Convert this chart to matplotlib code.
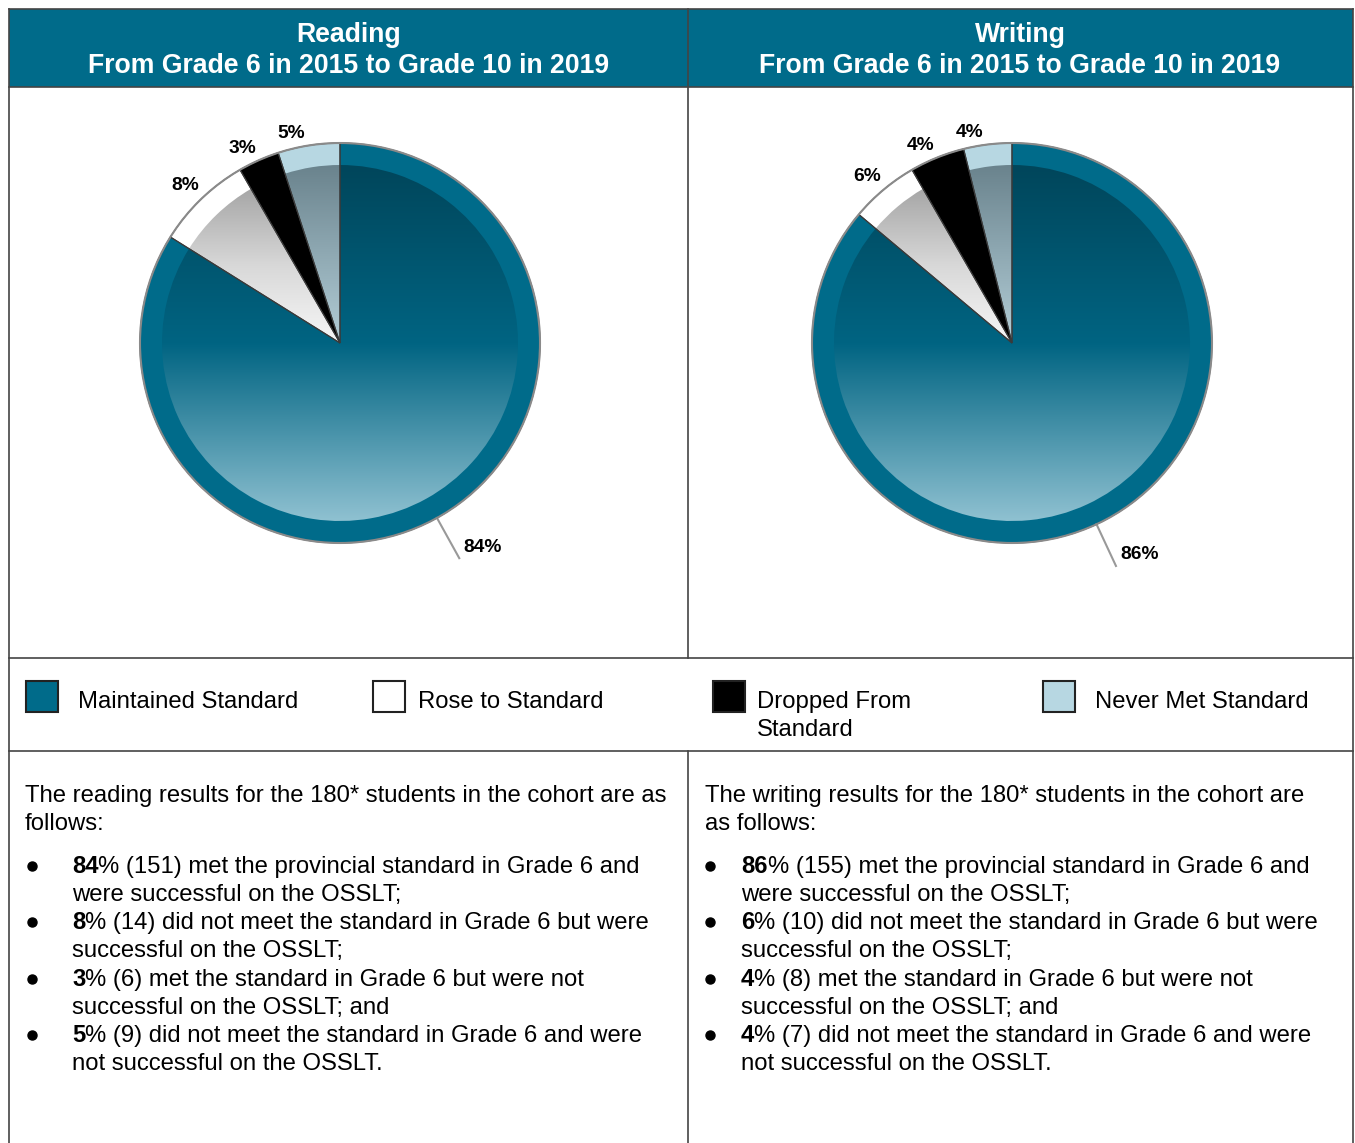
import numpy as np
import matplotlib.pyplot as plt
from matplotlib.patches import Wedge, Rectangle, Circle
from matplotlib.colors import LinearSegmentedColormap

plt.rcParams['font.family'] = ['Liberation Sans', 'DejaVu Sans']

W, H = 1355, 1143

# data
categories = ['Maintained Standard', 'Rose to Standard', 'Dropped From\nStandard', 'Never Met Standard']
subjects = ['Reading', 'Writing']
subtitle = 'From Grade 6 in 2015 to Grade 10 in 2019'
reading_counts = [151, 14, 6, 9]
writing_counts = [155, 10, 8, 7]
reading_pct = [84, 8, 3, 5]
writing_pct = [86, 6, 4, 4]

intro = ['The reading results for the 180* students in the cohort are as\nfollows:',
         'The writing results for the 180* students in the cohort are\nas follows:']
reading_bullets = ['% (151) met the provincial standard in Grade 6 and\nwere successful on the OSSLT;',
                   '% (14) did not meet the standard in Grade 6 but were\nsuccessful on the OSSLT;',
                   '% (6) met the standard in Grade 6 but were not\nsuccessful on the OSSLT; and',
                   '% (9) did not meet the standard in Grade 6 and were\nnot successful on the OSSLT.']
writing_bullets = ['% (155) met the provincial standard in Grade 6 and\nwere successful on the OSSLT;',
                   '% (10) did not meet the standard in Grade 6 but were\nsuccessful on the OSSLT;',
                   '% (8) met the standard in Grade 6 but were not\nsuccessful on the OSSLT; and',
                   '% (7) did not meet the standard in Grade 6 and were\nnot successful on the OSSLT.']

teal = '#006b8a'
ring_colors = [teal, '#ffffff', '#000000', '#b7d7e2']
inner_grads = [['#00465b', '#006482', '#8fc1d1'],
               ['#a6a6a6', '#d8d8d8', '#f7f7f7'],
               ['#000000', '#000000', '#000000'],
               ['#6a838d', '#8fa9b3', '#b3cdd6']]
line_c = '#444444'
FS = 17.2

fig = plt.figure(figsize=(W / 100, H / 100), dpi=100)
bg = fig.add_axes([0, 0, 1, 1])
bg.set_xlim(0, W)
bg.set_ylim(H, 0)
bg.axis('off')
renderer = fig.canvas.get_renderer()


def put(x, yc, s, **kw):
    # yc is the visual middle of the line; place on the baseline below it
    return bg.text(x, yc + 8, s, fontsize=kw.pop('fontsize', FS), ha=kw.pop('ha', 'left'),
                   va='baseline', **kw)


# table frame
bg.add_patch(Rectangle((9, 9), 1344, 78, facecolor=teal, edgecolor='none'))
for y in [87, 658, 751]:
    bg.plot([9, 1353], [y, y], color=line_c, lw=1.2)
bg.plot([9, 1353], [9, 9], color=line_c, lw=1.2)
bg.plot([9, 9], [9, H + 5], color=line_c, lw=1.2)
bg.plot([1353, 1353], [9, H + 5], color=line_c, lw=1.2)
bg.plot([688, 688], [9, 658], color=line_c, lw=1.2)
bg.plot([688, 688], [751, H + 5], color=line_c, lw=1.2)

col_centers = [349, 1020]
for cx, subj in zip(col_centers, subjects):
    put(cx, 34, subj, color='white', fontsize=19.2, fontweight='bold', ha='center')
    put(cx, 65, subtitle, color='white', fontsize=19.2, fontweight='bold', ha='center')

# legend
legend_x = [26, 373, 713, 1043]
legend_tx = [78, 418, 757, 1095]
for bx, tx, lab, c in zip(legend_x, legend_tx, categories, ring_colors):
    bg.add_patch(Rectangle((bx, 681), 32, 31, facecolor=c, edgecolor='#222222', lw=1.5))
    for k, part in enumerate(lab.split('\n')):
        put(tx, 700 + 28 * k, part)

# explanatory text
text_cols = [(25, 32, 72, reading_pct, reading_bullets),
             (705, 710, 741, writing_pct, writing_bullets)]
bullet_y = [865, 921, 978, 1034]
for (ix, bx, tx, pcts, bullets), para in zip(text_cols, intro):
    for k, part in enumerate(para.split('\n')):
        put(ix, 794 + 28 * k, part)
    for y, p, b in zip(bullet_y, pcts, bullets):
        bg.plot(bx, y + 1, 'o', ms=6.5, color='black')
        first, second = b.split('\n')
        t = put(tx, y, str(p), fontweight='bold')
        ext = t.get_window_extent(renderer)
        xr = bg.transData.inverted().transform((ext.x1, ext.y0))[0]
        put(xr, y, first)
        put(tx, y + 28, second)

# pies
pie_centers = [(340, 343), (1012, 343)]
half = 280
r_in = 0.89


def draw_pie(center, counts, pcts):
    cx, cy = center
    ax = fig.add_axes([(cx - half) / W, 1 - (cy + half) / H, 2 * half / W, 2 * half / H])
    wedges, _ = ax.pie(counts, startangle=90, counterclock=False, colors=ring_colors,
                       radius=1, wedgeprops=dict(edgecolor='none'))
    grad = np.linspace(0, 1, 256)[:, None]
    for i, w in enumerate(wedges):
        t1, t2 = w.theta1, w.theta2
        ang = np.radians(np.linspace(t1, t2, 100))
        ys = np.concatenate([r_in * np.sin(ang), [0]])
        inner = Wedge((0, 0), r_in, t1, t2, facecolor='none', edgecolor='none')
        ax.add_patch(inner)
        cmap = LinearSegmentedColormap.from_list('g%d' % i, inner_grads[i])
        im = ax.imshow(grad, cmap=cmap, extent=(-1, 1, ys.min(), ys.max()),
                       aspect='auto', interpolation='bicubic', zorder=2)
        im.set_clip_path(inner)
        ax.add_patch(Wedge((0, 0), 1, t1, t2, facecolor='none', edgecolor='#3a3a3a',
                           lw=0.8, zorder=3))
        mid_deg = ((t1 + t2) / 2) % 360
        mid = np.radians(mid_deg)
        if i == 0:
            x0, y0 = np.cos(mid), np.sin(mid)
            ax.plot([x0, 1.23 * x0], [y0, 1.23 * y0], color='#999999', lw=1.5, zorder=1)
            ax.text(1.23 * x0 + 0.02, 1.23 * y0 + 0.055, '%d%%' % pcts[i], fontsize=13.8,
                    fontweight='bold', ha='left', va='center')
        else:
            a = np.radians(mid_deg + 5 - 0.1 * (mid_deg - 90))
            r = 1.07 + 0.0008 * (mid_deg - 90)
            ax.text(r * np.cos(a), r * np.sin(a), '%d%%' % pcts[i], fontsize=13.8,
                    fontweight='bold', ha='center', va='center')
    ax.add_patch(Circle((0, 0), 1, facecolor='none', edgecolor='#8a8a8a', lw=1.5, zorder=4))
    ax.set_xlim(-1.4, 1.4)
    ax.set_ylim(-1.4, 1.4)
    ax.set_aspect('equal')
    ax.axis('off')


draw_pie(pie_centers[0], reading_counts, reading_pct)
draw_pie(pie_centers[1], writing_counts, writing_pct)

fig.savefig('out.png', dpi=100)
